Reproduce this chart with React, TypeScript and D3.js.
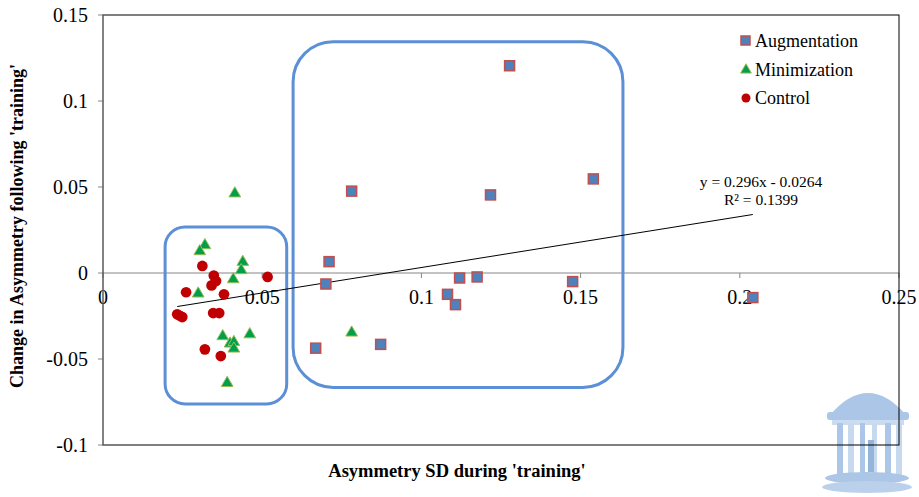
import { useMemo } from "react";
import * as d3 from "d3";

const WIDTH = 919;
const HEIGHT = 497;
const PLOT = { left: 103, right: 899, top: 15, bottom: 445 };
const FONT = "Liberation Serif";

// values
const augX = [0.1277, 0.0781, 0.1217, 0.154, 0.071, 0.07, 0.112, 0.1175, 0.1475, 0.1082, 0.1107, 0.0668, 0.0872, 0.2041];
const augY = [0.1205, 0.0476, 0.0454, 0.0547, 0.0066, -0.0064, -0.0029, -0.0023, -0.005, -0.0124, -0.0184, -0.0437, -0.0415, -0.0143];

const minX = [0.0414, 0.032, 0.0304, 0.0439, 0.0434, 0.0409, 0.0299, 0.0376, 0.0461, 0.0399, 0.0411, 0.0411, 0.039, 0.0781];
const minY = [0.0462, 0.0161, 0.0126, 0.0064, 0.0016, -0.0037, -0.012, -0.0368, -0.0357, -0.0411, -0.0402, -0.044, -0.064, -0.0347];

const ctrlX = [0.0312, 0.0348, 0.0355, 0.0341, 0.0517, 0.0261, 0.038, 0.0233, 0.0249, 0.0243, 0.0346, 0.0365, 0.032, 0.037];
const ctrlY = [0.0041, -0.0015, -0.0047, -0.0072, -0.0023, -0.0112, -0.0124, -0.024, -0.0256, -0.025, -0.0233, -0.0233, -0.0444, -0.0483];

const xTicks = [0, 0.05, 0.1, 0.15, 0.2, 0.25];
const yTicks = [-0.1, -0.05, 0, 0.05, 0.1, 0.15];

const seriesNames = ["Augmentation", "Minimization", "Control"];
const trend = { slope: 0.296, intercept: -0.0264, r2: 0.1399 };

// annotation boxes, in data units
const boxes = [
  { x0: 0.0195, x1: 0.0577, y0: 0.0268, y1: -0.0761, r: 20 },
  { x0: 0.0597, x1: 0.1633, y0: 0.1345, y1: -0.0665, r: 40 },
];

const fmt = (v: number) => (v === 0 ? "0" : String(+v.toFixed(2)));

const OldWell = () => {
  const c = "#a7c3e5";
  const cols = [840, 851, 863, 875, 888, 899];
  return (
    <g fill={c} opacity={0.95}>
      <path d="M830,415 Q868,371 906,415 Z" />
      <rect x={827} y={412} width={82} height={8} rx={3} />
      <rect x={832} y={420} width={72} height={5} fill="#c9dbf0" />
      {cols.map((x, i) => (
        <rect key={i} x={x - 3} y={423} width={i === 2 || i === 3 ? 5 : 6} height={52} fill={i % 2 ? "#c4d7ee" : c} />
      ))}
      <rect x={868} y={440} width={6} height={32} fill="#8fb0d8" />
      <ellipse cx={867} cy={478} rx={42} ry={6} />
      <ellipse cx={867} cy={487} rx={45} ry={6} fill="#b8cfea" />
    </g>
  );
};

export default function App() {
  const x = useMemo(() => d3.scaleLinear().domain([0, 0.25]).range([PLOT.left, PLOT.right]), []);
  const y = useMemo(() => d3.scaleLinear().domain([-0.1, 0.15]).range([PLOT.bottom, PLOT.top]), []);

  const aug = augX.map((v, i) => ({ x: v, y: augY[i] }));
  const mini = minX.map((v, i) => ({ x: v, y: minY[i] }));
  const ctrl = ctrlX.map((v, i) => ({ x: v, y: ctrlY[i] }));

  const allX = [...augX, ...minX, ...ctrlX];
  const tx = d3.extent(allX) as [number, number];
  const trendLine = d3.line<number>()
    .x((d) => x(d))
    .y((d) => y(trend.slope * d + trend.intercept))(tx);

  const tri = d3.symbol(d3.symbolTriangle, 60)();
  const circ = d3.symbol(d3.symbolCircle, 90)();

  return (
    <div style={{ position: "fixed", left: 0, top: 0 }}>
      <svg width={WIDTH} height={HEIGHT} style={{ display: "block", background: "#fff" }}>
        <OldWell />

        {/* y axis ticks and labels */}
        {yTicks.map((t) => (
          <g key={t}>
            <line x1={PLOT.left - 5} x2={PLOT.left} y1={y(t)} y2={y(t)} stroke="#868686" />
            <text x={88} y={y(t)} dy="0.35em" textAnchor="end" fontSize={20} fontFamily={FONT}>{fmt(t)}</text>
          </g>
        ))}

        {/* zero line with x ticks */}
        <line x1={PLOT.left} x2={PLOT.right} y1={y(0)} y2={y(0)} stroke="#868686" />
        {xTicks.map((t) => (
          <g key={t}>
            <line x1={x(t)} x2={x(t)} y1={y(0)} y2={y(0) + 5} stroke="#868686" />
            <text x={x(t)} y={304} textAnchor="middle" fontSize={20} fontFamily={FONT}>{fmt(t)}</text>
          </g>
        ))}

        {/* annotation boxes */}
        {boxes.map((b, i) => (
          <rect key={i} x={x(b.x0)} y={y(b.y0)} width={x(b.x1) - x(b.x0)} height={y(b.y1) - y(b.y0)}
            rx={b.r} fill="none" stroke="#5b8fd6" strokeWidth={3} />
        ))}

        {/* trend line */}
        <path d={trendLine || ""} fill="none" stroke="#000" strokeWidth={1} />

        {ctrl.map((d, i) => (
          <path key={"c" + i} d={circ || ""} transform={`translate(${x(d.x)},${y(d.y)})`} fill="#c00000" />
        ))}
        {mini.map((d, i) => (
          <path key={"m" + i} d={tri || ""} transform={`translate(${x(d.x)},${y(d.y)})`}
            fill="#00a04a" stroke="#9bbb59" strokeWidth={1} />
        ))}
        {aug.map((d, i) => (
          <rect key={"a" + i} x={x(d.x) - 5} y={y(d.y) - 5} width={10} height={10}
            fill="#4f81bd" stroke="#c0504d" strokeWidth={1.5} />
        ))}

        {/* plot frame */}
        <rect x={PLOT.left} y={PLOT.top} width={PLOT.right - PLOT.left} height={PLOT.bottom - PLOT.top}
          fill="none" stroke="#000" strokeWidth={1} />
        <line x1={PLOT.left} x2={PLOT.left} y1={PLOT.top} y2={PLOT.bottom} stroke="#868686" />

        {/* trend equation */}
        <text x={761} y={187} textAnchor="middle" fontSize={15.5} fontFamily={FONT}>
          {`y = ${trend.slope}x - ${Math.abs(trend.intercept)}`}
        </text>
        <text x={761} y={205} textAnchor="middle" fontSize={15.5} fontFamily={FONT}>{`R² = ${trend.r2}`}</text>

        {/* legend */}
        <rect x={741} y={36} width={9} height={9} fill="#4f81bd" stroke="#c0504d" strokeWidth={1.5} />
        <text x={755} y={47} fontSize={18} fontFamily={FONT}>{seriesNames[0]}</text>
        <path d={d3.symbol(d3.symbolTriangle, 50)() || ""} transform="translate(746,70)" fill="#00a04a" stroke="#9bbb59" />
        <text x={755} y={76} fontSize={18} fontFamily={FONT}>{seriesNames[1]}</text>
        <circle cx={746} cy={98} r={4.5} fill="#c00000" />
        <text x={755} y={104} fontSize={18} fontFamily={FONT}>{seriesNames[2]}</text>

        {/* axis titles */}
        <text x={457} y={477} textAnchor="middle" fontSize={18.5} fontWeight="bold" fontFamily={FONT}>
          Asymmetry SD during 'training'
        </text>
        <text transform="translate(23,226) rotate(-90)" textAnchor="middle" fontSize={18} fontWeight="bold" fontFamily={FONT}>
          Change in Asymmetry following 'training'
        </text>
      </svg>
    </div>
  );
}
